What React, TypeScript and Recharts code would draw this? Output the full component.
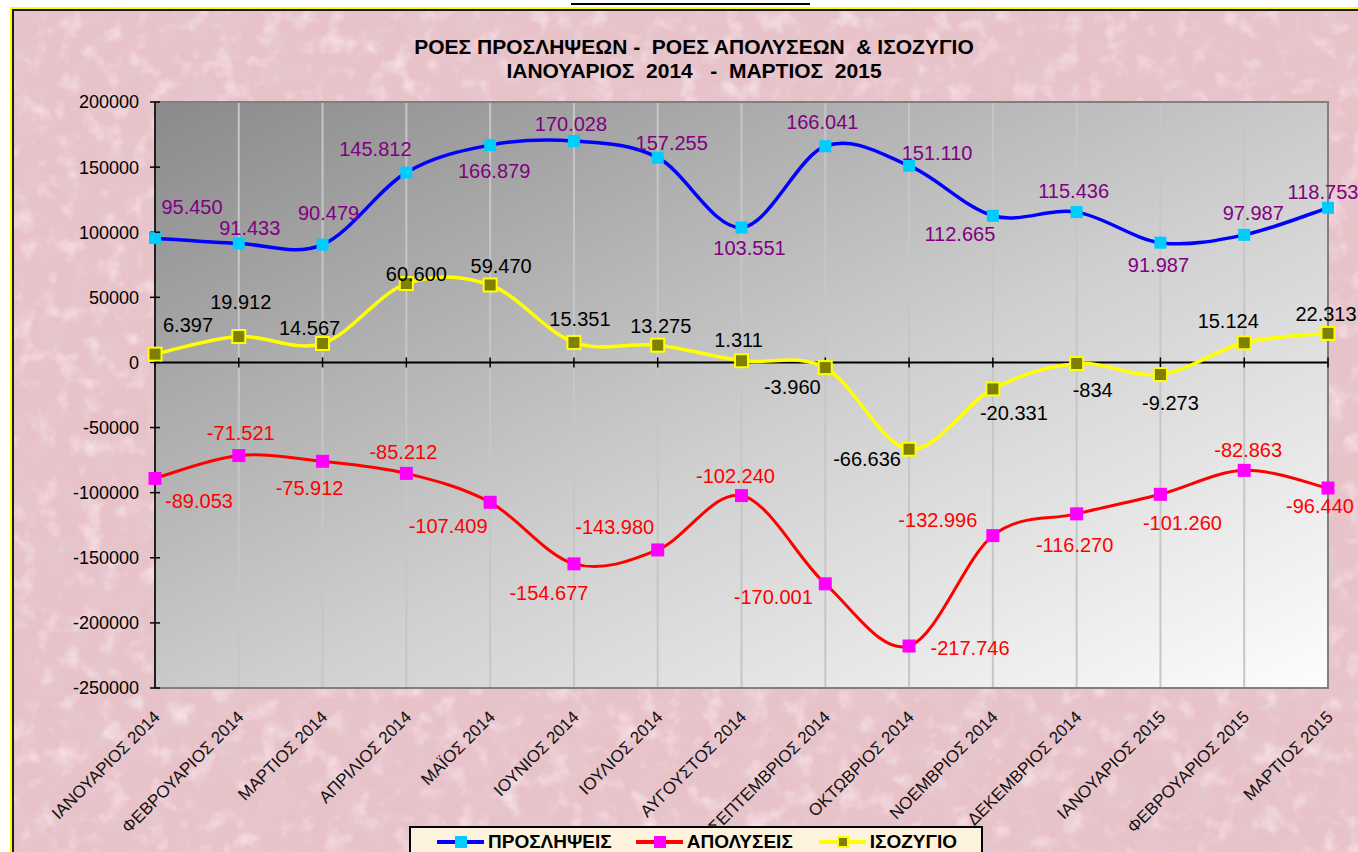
import React from 'react';
import { LineChart, Line, XAxis, YAxis, CartesianGrid, ReferenceLine, ReferenceArea } from 'recharts';

const months = [
  'ΙΑΝΟΥΑΡΙΟΣ 2014', 'ΦΕΒΡΟΥΑΡΙΟΣ 2014', 'ΜΑΡΤΙΟΣ 2014', 'ΑΠΡΙΛΙΟΣ 2014', 'ΜΑΪΟΣ 2014',
  'ΙΟΥΝΙΟΣ 2014', 'ΙΟΥΛΙΟΣ 2014', 'ΑΥΓΟΥΣΤΟΣ 2014', 'ΣΕΠΤΕΜΒΡΙΟΣ 2014', 'ΟΚΤΩΒΡΙΟΣ 2014',
  'ΝΟΕΜΒΡΙΟΣ 2014', 'ΔΕΚΕΜΒΡΙΟΣ 2014', 'ΙΑΝΟΥΑΡΙΟΣ 2015', 'ΦΕΒΡΟΥΑΡΙΟΣ 2015', 'ΜΑΡΤΙΟΣ 2015',
];
const hires = [95450, 91433, 90479, 145812, 166879, 170028, 157255, 103551, 166041, 151110, 112665, 115436, 91987, 97987, 118753];
const layoffs = [-89053, -71521, -75912, -85212, -107409, -154677, -143980, -102240, -170001, -217746, -132996, -116270, -101260, -82863, -96440];
const balance = [6397, 19912, 14567, 60600, 59470, 15351, 13275, 1311, -3960, -66636, -20331, -834, -9273, 15124, 22313];
const yTicks = [200000, 150000, 100000, 50000, 0, -50000, -100000, -150000, -200000, -250000];

const titleLines = ['ΡΟΕΣ ΠΡΟΣΛΗΨΕΩΝ -  ΡΟΕΣ ΑΠΟΛΥΣΕΩΝ  & ΙΣΟΖΥΓΙΟ', 'ΙΑΝΟΥΑΡΙΟΣ  2014   -  ΜΑΡΤΙΟΣ  2015'];
const seriesNames = ['ΠΡΟΣΛΗΨΕΙΣ', 'ΑΠΟΛΥΣΕΙΣ', 'ΙΣΟΖΥΓΙΟ'];

// label placement (offset of label centre from its point), like Excel's manual label positions
const hiresLabelOffset = [[37, -31], [11, -16], [6, -32], [-31, -24], [4, 26], [-3, -17], [14, -15], [8, 20], [-3, -24], [28, -13], [-33, 18], [-3, -21], [-2, 22], [9, -22], [-5, -16]];
const balanceLabelOffset = [[33, -29], [2, -35], [-13, -16], [10, -10], [11, -19], [6, -24], [3, -19], [-3, -21], [-33, 19], [-42, 10], [21, 24], [16, 26], [10, 28], [-16, -22], [-2, -20]];
const layoffsLabelOffset = [[44, 22], [2, -23], [-13, 27], [-3, -22], [-42, 23], [-25, 29], [-43, -23], [-6, -20], [-52, 13], [61, 2], [-55, -16], [-2, 31], [22, 28], [4, -21], [-8, 18]];

const data = months.map((m, i) => ({ month: m, hires: hires[i], layoffs: layoffs[i], balance: balance[i] }));

const FONT = "'Liberation Sans', Arial, Helvetica, sans-serif";

const fmt = (v: number) => {
  const s = Math.abs(v).toString().replace(/\B(?=(\d{3})+(?!\d))/g, '.');
  return (v < 0 ? '-' : '') + s;
};

// Excel-like smoothed line (Catmull-Rom through points)
const excelCurve = (context: any) => {
  let pts: number[][] = [];
  return {
    areaStart() {},
    areaEnd() {},
    lineStart() { pts = []; },
    point(x: number, y: number) { pts.push([+x, +y]); },
    lineEnd() {
      const n = pts.length;
      if (!n) return;
      context.moveTo(pts[0][0], pts[0][1]);
      for (let i = 0; i < n - 1; i++) {
        const p0 = pts[Math.max(i - 1, 0)];
        const p1 = pts[i];
        const p2 = pts[i + 1];
        const p3 = pts[Math.min(i + 2, n - 1)];
        const c1x = p1[0] + (p2[0] - p0[0]) / 6;
        const c1y = p1[1] + (p2[1] - p0[1]) / 6;
        const c2x = p2[0] - (p3[0] - p1[0]) / 6;
        const c2y = p2[1] - (p3[1] - p1[1]) / 6;
        context.bezierCurveTo(c1x, c1y, c2x, c2y, p2[0], p2[1]);
      }
    },
  };
};

const makeDot = (values: number[], offsets: number[][], fill: string, size: number, stroke: string, strokeW: number, labelColor: string, prefix: string) =>
  (props: any) => {
    const { cx, cy, index } = props;
    if (cx == null || cy == null) return <g key={`${prefix}${index}`} />;
    const [dx, dy] = offsets[index];
    return (
      <g key={`${prefix}${index}`}>
        <rect x={cx - size / 2} y={cy - size / 2} width={size} height={size} fill={fill} stroke={stroke} strokeWidth={strokeW} />
        <text x={cx + dx} y={cy + dy} dy="0.36em" textAnchor="middle" fill={labelColor} fontSize={20} fontFamily={FONT}>
          {fmt(values[index])}
        </text>
      </g>
    );
  };

const XTick = (props: any) => {
  const { x, y, payload } = props;
  const ax = x + 6;
  const ay = y + 30;
  return (
    <text x={ax} y={ay} transform={`rotate(-45 ${ax} ${ay})`} textAnchor="end" fontSize={17} fill="#111" fontFamily={FONT}>
      {payload.value}
    </text>
  );
};

const YTick = (props: any) => {
  const { x, y, payload } = props;
  return (
    <g>
      <line x1={x + 16} x2={x + 21} y1={y} y2={y} stroke="#000" strokeWidth={1.5} />
      <text x={x} y={y} dy="0.36em" textAnchor="end" fontSize={18} fill="#000" fontFamily={FONT}>
        {payload.value}
      </text>
    </g>
  );
};

const ZeroAxis = (p: any) => {
  const n = months.length;
  const xs = months.map((_, i) => p.x1 + ((p.x2 - p.x1) * i) / (n - 1));
  return (
    <g>
      <line x1={p.x1} x2={p.x2} y1={p.y1} y2={p.y2} stroke="#000" strokeWidth={2} />
      {xs.map((x, i) => (
        <line key={i} x1={x} x2={x} y1={p.y1 - 5} y2={p.y1 + 5} stroke="#000" strokeWidth={1.5} />
      ))}
    </g>
  );
};

const LegendItem = ({ line, marker, markerStroke, label, gap }: any) => (
  <div style={{ display: 'flex', alignItems: 'center', marginRight: gap }}>
    <div style={{ position: 'relative', width: 47, height: 12, marginRight: 4 }}>
      <div style={{ position: 'absolute', left: 0, right: 0, top: 4, height: 4, background: line }} />
      <div style={{ position: 'absolute', left: 18, top: 0, width: 12, height: 12, boxSizing: 'border-box', background: marker, border: markerStroke ? `2px solid ${markerStroke}` : 'none' }} />
    </div>
    <span style={{ fontFamily: FONT, fontWeight: 'bold', fontSize: 19, color: '#000' }}>{label}</span>
  </div>
);

export default function App() {
  return (
    <div style={{ position: 'absolute', left: 0, top: 0, width: 1358, height: 852, overflow: 'hidden', background: '#fff' }}>
      {/* cropped heading underline at very top */}
      <div style={{ position: 'absolute', left: 571, top: 3, width: 239, height: 2, background: '#000' }} />
      {/* chart frame */}
      <div style={{ position: 'absolute', left: 10, top: 7, width: 1420, height: 900, border: '2px solid #ffff00', boxSizing: 'border-box' }}>
        <div style={{ position: 'absolute', left: 0, top: 0, right: 0, bottom: 0, border: '2px solid #1a1a1a', background: '#e8c2c9', overflow: 'hidden' }}>
          <svg width={1420} height={900} style={{ position: 'absolute', left: 0, top: 0 }}>
            <defs>
              <filter id="paper" x="0" y="0" width="100%" height="100%">
                <feTurbulence type="fractalNoise" baseFrequency="0.04" numOctaves={4} seed={7} />
                <feColorMatrix type="matrix" values="0 0 0 0 0.78  0 0 0 0 0.58  0 0 0 0 0.63  2.2 0 0 0 -1.0" />
              </filter>
              <filter id="paper2" x="0" y="0" width="100%" height="100%">
                <feTurbulence type="fractalNoise" baseFrequency="0.045" numOctaves={3} seed={19} />
                <feColorMatrix type="matrix" values="0 0 0 0 0.97  0 0 0 0 0.86  0 0 0 0 0.89  1.8 0 0 0 -0.95" />
              </filter>
            </defs>
            <rect width={1420} height={900} filter="url(#paper)" />
            <rect width={1420} height={900} filter="url(#paper2)" />
          </svg>
        </div>
      </div>

      {/* title */}
      <div style={{ position: 'absolute', left: 344, width: 700, top: 35, textAlign: 'center', fontFamily: FONT, fontWeight: 'bold', fontSize: 21, lineHeight: '24px', color: '#000', whiteSpace: 'pre' }}>
        <div>{titleLines[0]}</div>
        <div>{titleLines[1]}</div>
      </div>

      <div style={{ position: 'absolute', left: 0, top: 0 }}>
        <LineChart width={1400} height={852} data={data} margin={{ top: 102, right: 72, bottom: 0, left: 10 }}>
          <defs>
            <linearGradient id="plotBg" x1="0" y1="0" x2="1" y2="1">
              <stop offset="0%" stopColor="#8a8a8a" />
              <stop offset="55%" stopColor="#d0d0d0" />
              <stop offset="100%" stopColor="#fdfdfd" />
            </linearGradient>
          </defs>
          <CartesianGrid horizontal={false} vertical stroke="#c6c6c6" strokeWidth={2} fill="url(#plotBg)" />
          <ReferenceArea x1={months[0]} x2={months[months.length - 1]} y1={-250000} y2={200000} fill="none" stroke="#808080" strokeWidth={2} ifOverflow="visible" />
          <XAxis dataKey="month" interval={0} axisLine={false} tickLine={false} tickSize={0} tickMargin={0} height={164} tick={<XTick />} />
          <YAxis
            domain={[-250000, 200000]}
            ticks={yTicks}
            interval={0}
            width={145}
            axisLine={{ stroke: '#000', strokeWidth: 1.5 }}
            tickLine={{ stroke: '#000', strokeWidth: 1.5 }}
            tickSize={5}
            tickMargin={11}
            tick={<YTick />}
          />
          <ReferenceLine y={0} stroke="#000" strokeWidth={2} shape={ZeroAxis} />
          <Line
            dataKey="hires"
            name={seriesNames[0]}
            type={excelCurve as any}
            stroke="#0000ff"
            strokeWidth={3.5}
            isAnimationActive={false}
            dot={makeDot(hires, hiresLabelOffset, '#00ccff', 12, 'none', 0, '#800080', 'h')}
            activeDot={false}
          />
          <Line
            dataKey="layoffs"
            name={seriesNames[1]}
            type={excelCurve as any}
            stroke="#ff0000"
            strokeWidth={3}
            isAnimationActive={false}
            dot={makeDot(layoffs, layoffsLabelOffset, '#ff00ff', 13, 'none', 0, '#ff0000', 'l')}
            activeDot={false}
          />
          <Line
            dataKey="balance"
            name={seriesNames[2]}
            type={excelCurve as any}
            stroke="#ffff00"
            strokeWidth={3.5}
            isAnimationActive={false}
            dot={makeDot(balance, balanceLabelOffset, '#808000', 13, '#ffff00', 2, '#000000', 'b')}
            activeDot={false}
          />
        </LineChart>
      </div>

      {/* legend */}
      <div style={{ position: 'absolute', left: 409, top: 826, width: 574, height: 40, boxSizing: 'border-box', border: '2px solid #000', background: '#fdf3dc', display: 'flex', alignItems: 'flex-start', paddingTop: 3, paddingLeft: 26 }}>
        <LegendItem line="#0000ff" marker="#00ccff" label={seriesNames[0]} gap={24} />
        <LegendItem line="#ff0000" marker="#ff00ff" label={seriesNames[1]} gap={26} />
        <LegendItem line="#ffff00" marker="#808000" markerStroke="#ffff00" label={seriesNames[2]} gap={0} />
      </div>
    </div>
  );
}
